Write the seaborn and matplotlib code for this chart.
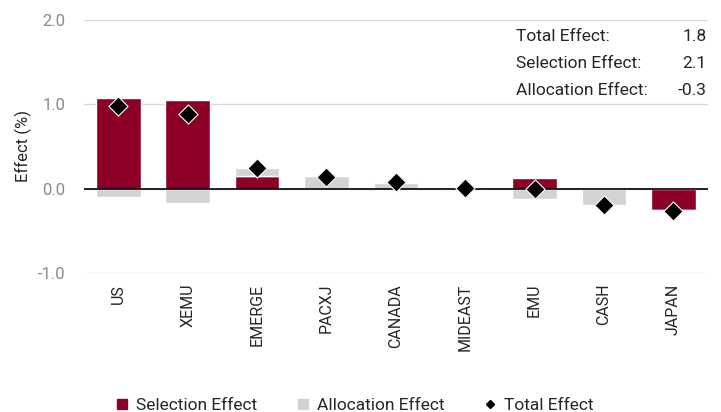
import numpy as np
import pandas as pd
import matplotlib
matplotlib.use('Agg')
import matplotlib.pyplot as plt
from matplotlib.lines import Line2D
import seaborn as sns

regions = ['US', 'XEMU', 'EMERGE', 'PACXJ', 'CANADA', 'MIDEAST', 'EMU', 'CASH', 'JAPAN']
selection = [1.08, 1.05, 0.155, -0.01, 0.0, 0.0, 0.12, 0.0, -0.25]
allocation = [-0.10, -0.17, 0.085, 0.155, 0.07, 0.01, -0.12, -0.20, -0.02]
total = [0.98, 0.88, 0.24, 0.14, 0.075, 0.01, 0.0, -0.20, -0.27]

summary_labels = ['Total Effect:', 'Selection Effect:', 'Allocation Effect:']
summary_values = ['1.8', '2.1', '-0.3']

RED = '#8C0028'
GREY = '#D3D3D4'

sns.set_style('white')
plt.rcParams['font.family'] = ['Roboto', 'DejaVu Sans']

df = pd.DataFrame({'region': regions, 'selection': selection,
                   'allocation': allocation, 'total': total})
# stack allocation on top of selection when both have the same sign
same_sign = np.sign(df['selection']) == np.sign(df['allocation'])
df['alloc_bottom'] = np.where(same_sign, df['selection'], 0.0)

fig = plt.figure(figsize=(7.21, 4.12), dpi=100)
ax = fig.add_axes([0.116, 0.338, 0.866, 0.613])

sns.barplot(data=df, x='region', y='selection', color=RED, width=0.64,
            saturation=1, ax=ax, zorder=2)
sns.barplot(data=df, x='region', y='allocation', color=GREY, width=0.64,
            saturation=1, ax=ax, bottom=df['alloc_bottom'], zorder=2)
sns.scatterplot(data=df, x='region', y='total', marker='D', s=95, color='black',
                edgecolor='white', linewidth=0.8, ax=ax, zorder=4)

ax.set_xlim(-0.5, len(regions) - 0.5)
ax.set_ylim(-1.0, 2.0)
ax.set_yticks([-1.0, 0.0, 1.0, 2.0])
ax.set_yticklabels(['-1.0', '0.0', '1.0', '2.0'], color='#8a8a8a', fontsize=12)
ax.yaxis.grid(True, color='#d9d9d9', linewidth=1)
ax.set_axisbelow(True)
ax.axhline(0, color='black', linewidth=1.2, zorder=3)
ax.set_ylabel('Effect (%)', fontsize=12, labelpad=4)
ax.set_xlabel('')
ax.tick_params(axis='x', rotation=90, labelsize=11.5, length=0, pad=8)
ax.tick_params(axis='y', length=0, pad=13)
for s in ax.spines.values():
    s.set_visible(False)

for i, (lab, val) in enumerate(zip(summary_labels, summary_values)):
    y = 0.935 - i * 0.106
    ax.text(0.692, y, lab, transform=ax.transAxes, fontsize=12.5, va='center', ha='left')
    ax.text(0.998, y, val, transform=ax.transAxes, fontsize=12.5, va='center', ha='right')

handles = [
    Line2D([], [], marker='s', linestyle='', color=RED, markersize=7.5),
    Line2D([], [], marker='s', linestyle='', color=GREY, markersize=7.5),
    Line2D([], [], marker='D', linestyle='', color='black', markersize=4.5),
]
fig.legend(handles, ['Selection Effect', 'Allocation Effect', 'Total Effect'],
           loc='lower center', bbox_to_anchor=(0.49, -0.04), ncol=3, frameon=False,
           fontsize=12.5, handlelength=1.0, handletextpad=0.3, columnspacing=2.15)

fig.savefig('out.png', dpi=100)
